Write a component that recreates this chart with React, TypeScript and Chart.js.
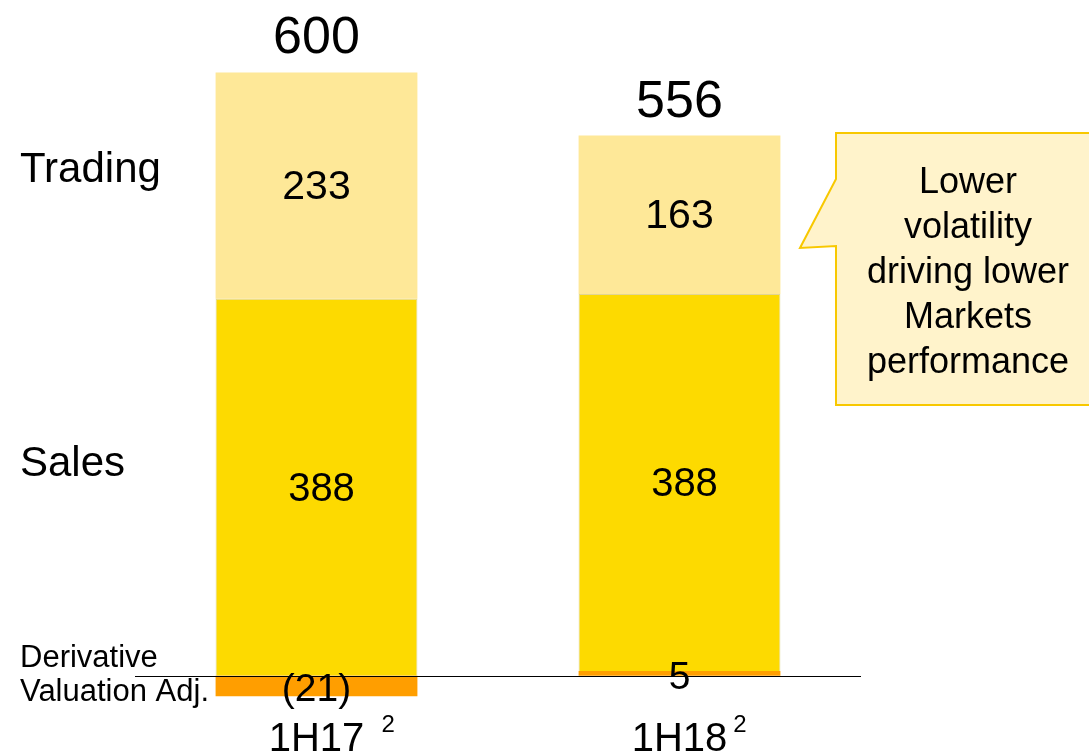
import React, { useEffect, useRef } from "react";
import { Chart, registerables } from "chart.js";

Chart.register(...registerables);

const categories = ["1H17", "1H18"];
const categorySuffix = [" ", ""];
const superscripts = ["2", "2"];
const derivativeValues = [-21, 5];
const salesValues = [388, 388];
const tradingValues = [233, 163];
const rowLabels = ["Trading", "Sales"];
const derivativeLabel = ["Derivative", "Valuation Adj."];
const calloutLines = ["Lower", "volatility", "driving lower", "Markets", "performance"];

const FONT = "'Liberation Sans', Arial, sans-serif";

const fmt = (v: number) => (v < 0 ? `(${Math.abs(v)})` : `${v}`);

const annotationPlugin = {
  id: "annotations",
  afterDatasetsDraw(chart: any) {
    const { ctx, chartArea, scales } = chart;
    const y0 = scales.y.getPixelForValue(0);
    ctx.save();
    // baseline
    ctx.strokeStyle = "#000";
    ctx.lineWidth = 1.2;
    ctx.beginPath();
    ctx.moveTo(chartArea.left, Math.round(y0) + 0.5);
    ctx.lineTo(chartArea.right, Math.round(y0) + 0.5);
    ctx.stroke();

    ctx.fillStyle = "#000";
    ctx.textAlign = "center";
    const metaD = chart.getDatasetMeta(0);
    const metaS = chart.getDatasetMeta(1);
    const metaT = chart.getDatasetMeta(2);

    categories.forEach((cat, i) => {
      const bd = metaD.data[i];
      const bs = metaS.data[i];
      const bt = metaT.data[i];
      // trading label
      ctx.textBaseline = "middle";
      ctx.font = `41px ${FONT}`;
      ctx.fillText(fmt(tradingValues[i]), bt.x, (bt.y + bt.base) / 2 + 2);
      // sales label
      ctx.font = `40px ${FONT}`;
      ctx.fillText(fmt(salesValues[i]), bs.x + 5, (bs.y + bs.base) / 2 + 3);
      // derivative label
      ctx.font = `39px ${FONT}`;
      const dmid = (bd.y + bd.base) / 2;
      ctx.fillText(fmt(derivativeValues[i]), bd.x, derivativeValues[i] < 0 ? dmid + 4 : y0 + 2);
      // total
      const total = derivativeValues[i] + salesValues[i] + tradingValues[i];
      ctx.textBaseline = "alphabetic";
      ctx.font = `52px ${FONT}`;
      ctx.fillText(String(total), bt.x, bt.y - 19);
      // category label with superscript
      ctx.font = `40px ${FONT}`;
      const w = ctx.measureText(cat).width;
      const full = cat + categorySuffix[i];
      const fw = ctx.measureText(full).width;
      const left = bt.x - w / 2;
      ctx.textAlign = "left";
      ctx.fillText(full, left, 751);
      ctx.font = `24px ${FONT}`;
      ctx.fillText(superscripts[i], left + fw + 6, 732);
      ctx.textAlign = "center";
    });

    // row labels
    ctx.textAlign = "left";
    ctx.textBaseline = "alphabetic";
    ctx.font = `42px ${FONT}`;
    ctx.fillText(rowLabels[0], 20, 182);
    ctx.fillText(rowLabels[1], 20, 476);
    ctx.font = `31px ${FONT}`;
    ctx.fillText(derivativeLabel[0], 20, 667);
    ctx.fillText(derivativeLabel[1], 20, 701);

    // callout
    ctx.beginPath();
    ctx.moveTo(836, 133);
    ctx.lineTo(1095, 133);
    ctx.lineTo(1095, 405);
    ctx.lineTo(836, 405);
    ctx.lineTo(836, 246);
    ctx.lineTo(800, 248);
    ctx.lineTo(836, 179);
    ctx.closePath();
    ctx.fillStyle = "#FFF3CB";
    ctx.fill();
    ctx.strokeStyle = "#F8C800";
    ctx.lineWidth = 2;
    ctx.stroke();

    ctx.fillStyle = "#000";
    ctx.textAlign = "center";
    ctx.font = `36px ${FONT}`;
    calloutLines.forEach((line, k) => {
      ctx.fillText(line, 968, 193 + k * 45);
    });
    ctx.restore();
  },
};

export default function App() {
  const ref = useRef<HTMLCanvasElement | null>(null);
  useEffect(() => {
    if (!ref.current) return;
    const chart = new Chart(ref.current, {
      type: "bar",
      data: {
        labels: categories,
        datasets: [
          {
            label: "Derivative Valuation Adj.",
            data: derivativeValues,
            backgroundColor: "#FF9E00",
            borderWidth: 0,
          },
          {
            label: "Sales",
            data: salesValues,
            backgroundColor: "#FDDA00",
            borderColor: "rgba(200,180,60,0.55)",
            borderWidth: 1,
          },
          {
            label: "Trading",
            data: tradingValues,
            backgroundColor: "#FEE898",
            borderWidth: 0,
          },
        ],
      },
      options: {
        animation: false,
        responsive: true,
        maintainAspectRatio: false,
        layout: { padding: { left: 135, right: 228, top: 0, bottom: 0 } },
        plugins: {
          legend: { display: false },
          tooltip: { enabled: false },
        },
        datasets: {
          bar: { barPercentage: 1, categoryPercentage: 0.556 },
        },
        scales: {
          x: { stacked: true, display: false, offset: true },
          y: { stacked: true, display: false, min: -81.5, max: 695.5 },
        },
      },
      plugins: [annotationPlugin],
    });
    return () => chart.destroy();
  }, []);
  return (
    <div style={{ position: "fixed", left: 0, top: 0, width: 1089, height: 755, background: "#fff" }}>
      <canvas ref={ref} />
    </div>
  );
}
